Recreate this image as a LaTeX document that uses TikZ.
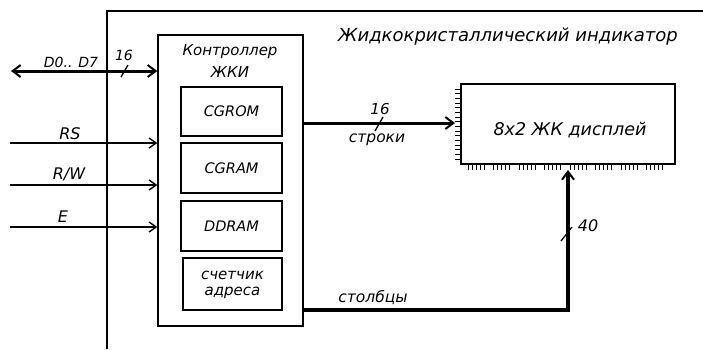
\documentclass[tikz,border=0pt]{standalone}
\usepackage{fontspec}
\setmainfont{DejaVu Sans}
\usetikzlibrary{arrows.meta}
\tikzset{
  frameline/.style={line width=1.2pt},
  boxline/.style={draw, line width=1.4pt, inner sep=0pt},
  thinarrow/.style={line width=1.3pt, -{Straight Barb[length=7pt,width=10pt,line width=1.4pt]}},
  busarrow/.style={line width=3pt, -{Straight Barb[length=8pt,width=12pt,line width=2pt]}},
  busdouble/.style={line width=3pt, {Straight Barb[length=8pt,width=12pt,line width=2pt]}-{Straight Barb[length=8pt,width=12pt,line width=2pt]}},
  slash/.style={line width=1.3pt},
  pin/.style={line width=0.9pt},
  lbl/.style={inner sep=0pt, font=\itshape\fontsize{#1}{#1}\selectfont},
  lbl/.default=15pt
}
\begin{document}
\begin{tikzpicture}[x=1pt,y=-1pt]
\useasboundingbox (0,0) rectangle (703,349);
% outer frame of the indicator
\coordinate (fbl) at (107,349);
\coordinate (ftl) at (107,11);
\coordinate (ftr) at (703,11);
\draw[frameline] (fbl) -- (ftl) -- (ftr);
\node[lbl=18pt] (title) at (508,37) {Жидкокристаллический индикатор};

% controller
\node[boxline, minimum width=145pt, minimum height=291pt] (ctrl) at (230.5,180.5) {};
\node[lbl=15pt] (ctrlA) at (230,52) {Контроллер};
\node[lbl=15pt] (ctrlB) at (230,72) {ЖКИ};
\node[boxline, minimum width=101pt, minimum height=49pt] (cgrom) at (231.5,111.5) {};
\node[lbl=14.5pt] (cgromT) at (231.5,111.5) {CGROM};
\node[boxline, minimum width=101pt, minimum height=50pt] (cgram) at (231.5,168) {};
\node[lbl=14.5pt] (cgramT) at (231.5,168) {CGRAM};
\node[boxline, minimum width=101pt, minimum height=50pt] (ddram) at (231.5,226) {};
\node[lbl=14.5pt] (ddramT) at (231.5,226) {DDRAM};
\node[boxline, minimum width=99pt, minimum height=52pt] (cnt) at (232.5,284) {};
\node[lbl=15pt] (cntA) at (232.5,275) {счетчик};
\node[lbl=15pt] (cntB) at (232.5,293) {адреса};

% display
\node[boxline, minimum width=214pt, minimum height=80pt] (disp) at (568,124) {};
\node[lbl=17.5pt] (dispT) at (570,130) {8x2 ЖК дисплей};
\foreach \i in {0,...,15} {
  \draw[pin] (455,{89+\i*4.667}) -- (461,{89+\i*4.667});
}
\foreach \g in {0,...,7} {
  \foreach \t in {0,...,4} {
    \draw[pin] ({468+25.5*\g+4*\t},164) -- ({468+25.5*\g+4*\t},170);
  }
}

% data bus
\coordinate (dL) at (11,71);
\draw[busdouble] (dL) -- (dL -| ctrl.west);
\node[lbl=14pt] (dlbl) at (71,62) {D0.. D7};
\node[lbl=14pt] (d16) at (124,55) {16};
\coordinate (ds1) at (121,77);
\coordinate (ds2) at (128,65);
\draw[slash] (ds1) -- (ds2);

% control lines
\coordinate (rsL) at (10,143);
\coordinate (rwL) at (10,185);
\coordinate (eL) at (10,227);
\draw[thinarrow] (rsL) -- (rsL -| ctrl.west);
\draw[thinarrow] (rwL) -- (rwL -| ctrl.west);
\draw[thinarrow] (eL) -- (eL -| ctrl.west);
\node[lbl=16pt] (rsT) at (70,134) {RS};
\node[lbl=16pt] (rwT) at (69,174) {R/W};
\node[lbl=16pt] (eT) at (63,217) {E};

% rows bus
\coordinate (rowsP) at (455,123);
\draw[busarrow] (rowsP -| ctrl.east) -- (rowsP);
\node[lbl=15pt] (r16) at (380,109) {16};
\coordinate (rs1) at (375,131);
\coordinate (rs2) at (383,117);
\draw[slash] (rs1) -- (rs2);
\node[lbl=15.5pt] (rowsT) at (377,140) {строки};

% columns bus
\coordinate (colS) at (303,310);
\coordinate (colC) at (568,310);
\coordinate (colP) at (568,170);
\draw[busarrow, line width=3.2pt] (colS -| ctrl.east) -- (colC) -- (colP);
\node[lbl=15.5pt] (colT) at (373,298) {столбцы};
\node[lbl=16pt] (c40) at (588,226) {40};
\coordinate (cs1) at (561,241);
\coordinate (cs2) at (572,227);
\draw[slash] (cs1) -- (cs2);
\end{tikzpicture}
\end{document}
